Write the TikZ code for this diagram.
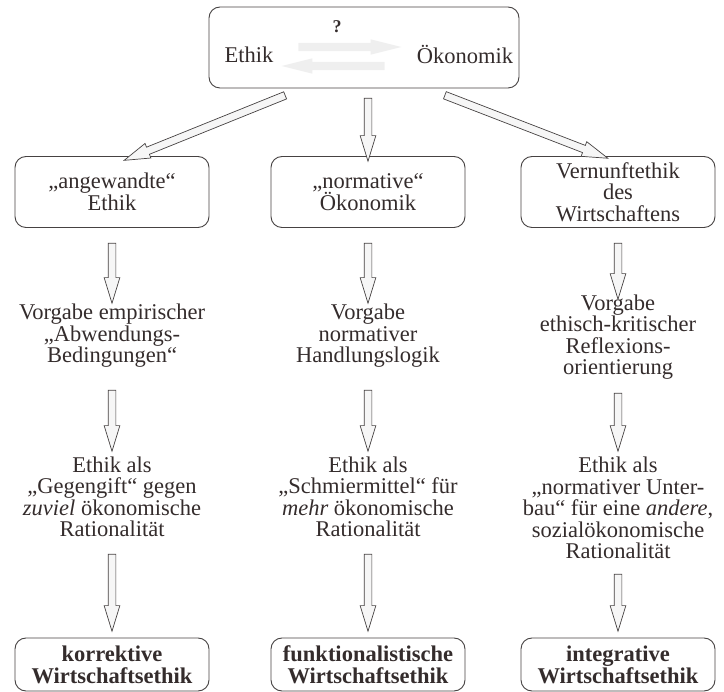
\documentclass[tikz,border=0pt]{standalone}
\usepackage{fontspec}
\setmainfont{Liberation Serif}
\usetikzlibrary{shapes.arrows,calc}
\definecolor{txt}{RGB}{52,44,44}
\definecolor{edge}{RGB}{70,66,66}
\definecolor{afill}{RGB}{246,246,246}
\definecolor{lfill}{RGB}{239,239,239}
\tikzset{
  base/.style={text=txt, align=center, font=\fontsize{22.5}{21.5}\selectfont, inner sep=0pt},
  rbox/.style={base, draw=edge, line width=0.9pt, rounded corners=11pt},
  bbox/.style={rbox, minimum width=194pt, minimum height=53pt, font=\bfseries\fontsize{22.5}{22}\selectfont},
  barrow/.style={single arrow, draw=edge, fill=afill, line width=0.7pt, inner sep=3.5pt,
     single arrow head extend=4pt, single arrow tip angle=34, anchor=center},
  larrow/.style={single arrow, draw=none, fill=lfill, inner sep=4pt,
     single arrow head extend=3.5pt, single arrow tip angle=28, anchor=center},
}
\newcommand{\blockarrow}[3]{%
  \path let \p1=(#2), \p2=(#3),
    \n1={veclen(\x2-\x1,\y2-\y1)}, \n2={atan2(\y2-\y1,\x2-\x1)} in
    node[#1, rotate=\n2, minimum height=\n1] at ($(\p1)!0.5!(\p2)$) {};}
\begin{document}
\begin{tikzpicture}[x=1pt,y=-1pt]
\useasboundingbox (0,0) rectangle (724,692);
% top box
\node[rbox, minimum width=310pt, minimum height=81pt] (top) at (364,47.5) {};
\node[base, font=\bfseries\fontsize{18}{18}\selectfont] (q) at (337,27) {?};
\node[base] (eth) at (249,55) {Ethik};
\node[base] (oek) at (465,55) {Ökonomik};
\coordinate (r1) at (290,47); \coordinate (r2) at (393,47);
\coordinate (l1) at (393,66); \coordinate (l2) at (290,66);
\blockarrow{larrow}{r1}{r2}
\blockarrow{larrow}{l1}{l2}
% row 1 boxes
\node[rbox, minimum width=194pt, minimum height=71pt] (b1) at (112,192) {„angewandte“\\Ethik};
\node[rbox, minimum width=194pt, minimum height=71pt] (b2) at (368,192) {„normative“\\Ökonomik};
\node[rbox, minimum width=194pt, minimum height=71pt] (b3) at (618,192) {Vernunftethik\\des\\Wirtschaftens};
% diagonal arrows
\coordinate (d1s) at (291,93); \coordinate (d1e) at (130,158);
\coordinate (d2s) at (368,92); \coordinate (d2e) at (368,155);
\coordinate (d3s) at (439,93); \coordinate (d3e) at (602,156);
\blockarrow{barrow}{d1s}{d1e}
\blockarrow{barrow}{d2s}{d2e}
\blockarrow{barrow}{d3s}{d3e}
% row 2 texts
\node[base] (t1) at (112,336) {Vorgabe empirischer\\„Abwendungs-\\Bedingungen“};
\node[base] (t2) at (368,336) {Vorgabe\\normativer\\Handlungslogik};
\node[base] (t3) at (618,337) {Vorgabe\\ethisch-kritischer\\Reflexions-\\orientierung};
% row 3 texts
\node[base] (u1) at (112,497) {Ethik als\\„Gegengift“ gegen\\\textit{zuviel} ökonomische\\Rationalität};
\node[base] (u2) at (368,497) {Ethik als\\„Schmiermittel“ für\\\textit{mehr} ökonomische\\Rationalität};
\node[base] (u3) at (618,508) {Ethik als\\„normativer Unter-\\bau“ für eine \textit{andere},\\sozialökonomische\\Rationalität};
% bottom boxes
\node[bbox] (e1) at (112,664.5) {korrektive\\Wirtschaftsethik};
\node[bbox] (e2) at (368,664.5) {funktionalistische\\Wirtschaftsethik};
\node[bbox] (e3) at (618,664.5) {integrative\\Wirtschaftsethik};
% vertical arrows
\coordinate (va1) at (112,237);   \coordinate (vb1) at (112,297);
\coordinate (va2) at (368,237);   \coordinate (vb2) at (368,297);
\coordinate (va3) at (618,237);   \coordinate (vb3) at (618,293);
\coordinate (wa1) at (112,384);   \coordinate (wb1) at (112,445);
\coordinate (wa2) at (368,384);   \coordinate (wb2) at (368,445);
\coordinate (wa3) at (618,387);   \coordinate (wb3) at (618,445);
\coordinate (xa1) at (112,548);   \coordinate (xb1) at (112,625);
\coordinate (xa2) at (368,548);   \coordinate (xb2) at (368,625);
\coordinate (xa3) at (618,568);   \coordinate (xb3) at (618,625);
\blockarrow{barrow}{va1}{vb1}
\blockarrow{barrow}{va2}{vb2}
\blockarrow{barrow}{va3}{vb3}
\blockarrow{barrow}{wa1}{wb1}
\blockarrow{barrow}{wa2}{wb2}
\blockarrow{barrow}{wa3}{wb3}
\blockarrow{barrow}{xa1}{xb1}
\blockarrow{barrow}{xa2}{xb2}
\blockarrow{barrow}{xa3}{xb3}
\end{tikzpicture}
\end{document}
